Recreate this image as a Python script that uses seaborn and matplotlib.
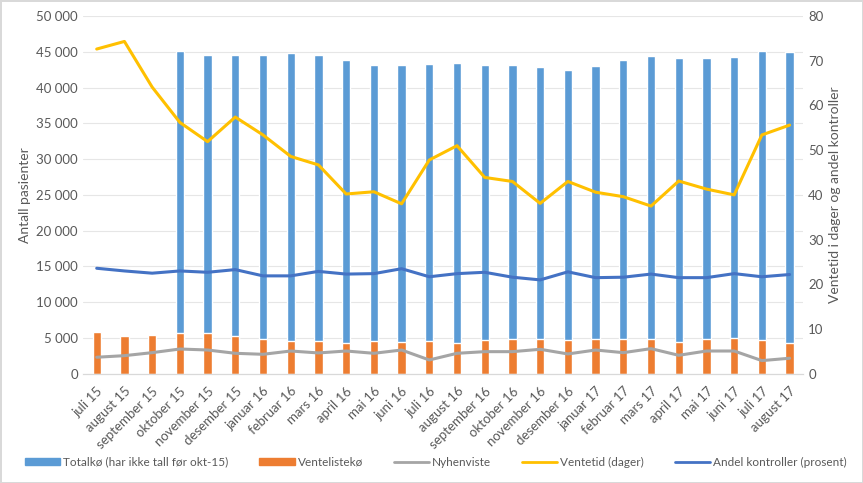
import numpy as np
import pandas as pd
import seaborn as sns
import matplotlib.pyplot as plt
from matplotlib.lines import Line2D
from matplotlib.patches import Patch

months = ["juli 15", "august 15", "september 15", "oktober 15", "november 15",
          "desember 15", "januar 16", "februar 16", "mars 16", "april 16",
          "mai 16", "juni 16", "juli 16", "august 16", "september 16",
          "oktober 16", "november 16", "desember 16", "januar 17", "februar 17",
          "mars 17", "april 17", "mai 17", "juni 17", "juli 17", "august 17"]

# Totalkø (no numbers before okt 15)
totalko = [np.nan, np.nan, np.nan, 45100, 44600, 44600, 44600, 44850, 44500, 43800,
           43100, 43100, 43300, 43400, 43100, 43200, 42900, 42500, 43000, 43900,
           44400, 44100, 44100, 44300, 45100, 45000]
ventelisteko = [5850, 5280, 5460, 5650, 5650, 5320, 4900, 4630, 4630, 4300,
                4630, 4440, 4630, 4260, 4720, 4800, 4800, 4720, 4800, 4800,
                4900, 4450, 4800, 4950, 4720, 4350]
nyhenviste = [2320, 2540, 2960, 3470, 3330, 2870, 2730, 3190, 2920, 3190,
              2870, 3330, 1940, 2870, 3100, 3100, 3430, 2780, 3330, 2960,
              3520, 2590, 3190, 3190, 1850, 2180]
ventetid = [72.6, 74.3, 64.1, 56.2, 51.9, 57.4, 53.4, 48.6, 46.7, 40.2,
            40.7, 38.0, 47.8, 51.0, 43.9, 43.0, 38.1, 43.0, 40.6, 39.6,
            37.5, 43.1, 41.3, 40.0, 53.4, 55.6]
andel_kontroller = [23.6, 23.0, 22.5, 23.0, 22.7, 23.3, 21.9, 21.9, 22.9, 22.3,
                    22.4, 23.5, 21.7, 22.4, 22.7, 21.6, 21.0, 22.8, 21.5, 21.6,
                    22.3, 21.5, 21.5, 22.4, 21.7, 22.2]

BLUE = "#5B9BD5"
ORANGE = "#ED7D31"
GREY = "#A5A5A5"
YELLOW = "#FFC000"
DARKBLUE = "#4472C4"
TXT = "#595959"

sns.set_style("white")
plt.rcParams["font.family"] = ["Lato", "DejaVu Sans"]

df = pd.DataFrame({"pos": np.arange(len(months)), "month": months,
                   "total": totalko, "vente": ventelisteko, "ny": nyhenviste,
                   "tid": ventetid, "andel": andel_kontroller})

fig = plt.figure(figsize=(8.63, 4.83), dpi=100)
fig.patch.set_edgecolor("#D9D9D9")
fig.patch.set_linewidth(2)
ax = fig.add_axes([0.096, 0.226, 0.835, 0.741])

sns.barplot(data=df, x="pos", y="total", color=BLUE, width=0.3, ax=ax,
            saturation=1, native_scale=True)
sns.barplot(data=df, x="pos", y="vente", color=ORANGE, width=0.3, ax=ax,
            saturation=1, native_scale=True)
sns.lineplot(data=df, x="pos", y="ny", color=GREY, lw=2.2, ax=ax)

ax2 = ax.twinx()
sns.lineplot(data=df, x="pos", y="tid", color=YELLOW, lw=2.2, ax=ax2)
sns.lineplot(data=df, x="pos", y="andel", color=DARKBLUE, lw=2.2, ax=ax2)

ax.set_xlim(-0.5, len(months) - 0.5)
ax.set_ylim(0, 50000)
ax2.set_ylim(0, 80)
ax.set_yticks(range(0, 50001, 5000))
ax.set_yticklabels([f"{v:,}".replace(",", "\u00a0") for v in range(0, 50001, 5000)])
ax2.set_yticks(range(0, 81, 10))
ax.set_xticks(df["pos"])
ax.set_xticklabels(months, rotation=45, ha="right", rotation_mode="anchor")

ax.grid(axis="y", color="#E6E6E6", lw=0.8)
ax.set_axisbelow(True)
for a in (ax, ax2):
    for s in ("top", "left", "right"):
        a.spines[s].set_visible(False)
    a.spines["bottom"].set_color("#D9D9D9")
    a.tick_params(colors=TXT, labelsize=9.5, length=0)
ax.tick_params(axis="x", length=4, color="#D9D9D9", pad=4)

ax.set_xlabel("")
ax.set_ylabel("Antall pasienter", color=TXT, fontsize=10)
ax2.set_ylabel("Ventetid i dager og andel kontroller", color=TXT, fontsize=10)

handles = [Patch(color=BLUE), Patch(color=ORANGE),
           Line2D([], [], color=GREY, lw=2), Line2D([], [], color=YELLOW, lw=2),
           Line2D([], [], color=DARKBLUE, lw=2)]
labels = ["Totalkø (har ikke tall før okt-15)", "Ventelistekø", "Nyhenviste",
          "Ventetid (dager)", "Andel kontroller (prosent)"]
fig.legend(handles, labels, loc="center", bbox_to_anchor=(0.505, 0.043), ncol=5,
           frameon=False, fontsize=8.5, labelcolor=TXT, handlelength=3.0,
           handleheight=0.6, columnspacing=2.6, handletextpad=0.25)

fig.savefig("out.png", dpi=100)
